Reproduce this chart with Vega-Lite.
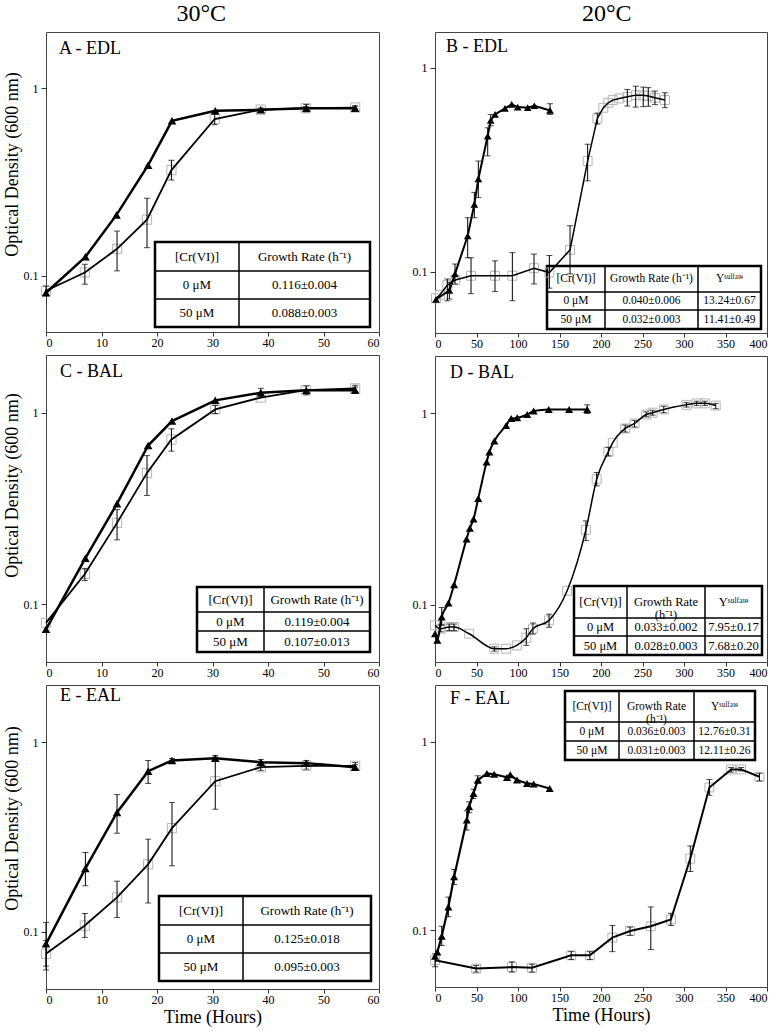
{
"$schema": "https://vega.github.io/schema/vega-lite/v6.json",
"background": "white",
"padding": {"left": 2, "top": 1, "right": 5, "bottom": 1},
"config": {
  "font": "Liberation Serif",
  "view": {"stroke": "#444", "strokeWidth": 1},
  "axis": {"domain": false, "grid": false, "tickColor": "#333", "tickSize": 5, "labelFont": "Liberation Serif", "labelFontSize": 12, "labelColor": "#000", "labelPadding": 3, "titleFont": "Liberation Serif", "titleFontSize": 18, "titleFontWeight": "normal", "titleColor": "#000"},
  "axisX": {"tickSize": 4, "labelPadding": 1, "titlePadding": 3},
  "axisY": {"titlePadding": 2},
  "title": {"font": "Liberation Serif", "fontWeight": "normal", "color": "#000"}
},
"datasets": {
"growth": [
{"p":"A","s":"0","t":0,"od":0.081},
{"p":"A","s":"0","t":7.1,"od":0.126},
{"p":"A","s":"0","t":12.7,"od":0.211},
{"p":"A","s":"0","t":18.4,"od":0.389},
{"p":"A","s":"0","t":22.7,"od":0.671},
{"p":"A","s":"0","t":30.5,"od":0.759},
{"p":"A","s":"0","t":38.7,"od":0.768},
{"p":"A","s":"0","t":46.9,"od":0.784,"lo":0.75,"hi":0.82},
{"p":"A","s":"0","t":55.7,"od":0.784,"lo":0.765,"hi":0.805},
{"p":"A","s":"50","t":0,"od":0.083,"lo":0.078,"hi":0.088},
{"p":"A","s":"50","t":7,"od":0.104,"lo":0.090,"hi":0.115},
{"p":"A","s":"50","t":12.8,"od":0.139,"lo":0.106,"hi":0.173},
{"p":"A","s":"50","t":18.2,"od":0.199,"lo":0.141,"hi":0.259},
{"p":"A","s":"50","t":22.6,"od":0.366,"lo":0.324,"hi":0.413},
{"p":"A","s":"50","t":30.4,"od":0.686,"lo":0.640,"hi":0.729},
{"p":"A","s":"50","t":38.7,"od":0.77,"lo":0.755,"hi":0.785},
{"p":"A","s":"50","t":46.8,"od":0.784,"lo":0.765,"hi":0.80},
{"p":"A","s":"50","t":55.7,"od":0.79,"lo":0.775,"hi":0.805},

{"p":"B","s":"0","t":1.2,"od":0.073},
{"p":"B","s":"0","t":17.3,"od":0.081,"lo":0.0735,"hi":0.0887},
{"p":"B","s":"0","t":24.1,"od":0.0975,"lo":0.087,"hi":0.109},
{"p":"B","s":"0","t":39.4,"od":0.150,"lo":0.117,"hi":0.184},
{"p":"B","s":"0","t":47.4,"od":0.214,"lo":0.184,"hi":0.245},
{"p":"B","s":"0","t":52.2,"od":0.285,"lo":0.231,"hi":0.349},
{"p":"B","s":"0","t":63.5,"od":0.463,"lo":0.370,"hi":0.508},
{"p":"B","s":"0","t":67.1,"od":0.553,"lo":0.52,"hi":0.59},
{"p":"B","s":"0","t":72.3,"od":0.591},
{"p":"B","s":"0","t":84.3,"od":0.633},
{"p":"B","s":"0","t":92.4,"od":0.662},
{"p":"B","s":"0","t":99.6,"od":0.642},
{"p":"B","s":"0","t":111.7,"od":0.638},
{"p":"B","s":"0","t":119.7,"od":0.652},
{"p":"B","s":"0","t":138.6,"od":0.618,"lo":0.591,"hi":0.667},
{"p":"B","s":"50","t":1.2,"od":0.074},
{"p":"B","s":"50","t":6,"od":0.077},
{"p":"B","s":"50","t":14.9,"od":0.086,"lo":0.072,"hi":0.092},
{"p":"B","s":"50","t":24.5,"od":0.091},
{"p":"B","s":"50","t":43.4,"od":0.0955,"lo":0.078,"hi":0.117},
{"p":"B","s":"50","t":72.3,"od":0.0955,"lo":0.080,"hi":0.113},
{"p":"B","s":"50","t":93.2,"od":0.0955,"lo":0.072,"hi":0.124},
{"p":"B","s":"50","t":119.3,"od":0.104,"lo":0.087,"hi":0.122},
{"p":"B","s":"50","t":137.8,"od":0.099,"lo":0.083,"hi":0.120},
{"p":"B","s":"50","t":162.7,"od":0.128,"lo":0.0975,"hi":0.168},
{"p":"B","s":"50","t":183.9,"od":0.349,"lo":0.279,"hi":0.422},
{"p":"B","s":"50","t":195.6,"od":0.565,"lo":0.53,"hi":0.60},
{"p":"B","s":"50","t":202.8,"od":0.637},
{"p":"B","s":"50","t":208.8,"od":0.674},
{"p":"B","s":"50","t":214.1,"od":0.695},
{"p":"B","s":"50","t":222,"od":0.708},
{"p":"B","s":"50","t":231.7,"od":0.721,"lo":0.650,"hi":0.784},
{"p":"B","s":"50","t":241.8,"od":0.735,"lo":0.642,"hi":0.813},
{"p":"B","s":"50","t":250.9,"od":0.733,"lo":0.645,"hi":0.805},
{"p":"B","s":"50","t":257,"od":0.727,"lo":0.648,"hi":0.80},
{"p":"B","s":"50","t":265,"od":0.713,"lo":0.66,"hi":0.77},
{"p":"B","s":"50","t":277,"od":0.695,"lo":0.638,"hi":0.755},

{"p":"C","s":"0","t":0,"od":0.074},
{"p":"C","s":"0","t":7.1,"od":0.174},
{"p":"C","s":"0","t":12.8,"od":0.335},
{"p":"C","s":"0","t":18.4,"od":0.674},
{"p":"C","s":"0","t":22.7,"od":0.904},
{"p":"C","s":"0","t":30.5,"od":1.16},
{"p":"C","s":"0","t":38.7,"od":1.27,"lo":1.21,"hi":1.34},
{"p":"C","s":"0","t":46.9,"od":1.31,"lo":1.24,"hi":1.38},
{"p":"C","s":"0","t":55.7,"od":1.31,"lo":1.26,"hi":1.36},
{"p":"C","s":"50","t":0,"od":0.080},
{"p":"C","s":"50","t":7,"od":0.144,"lo":0.133,"hi":0.154},
{"p":"C","s":"50","t":12.8,"od":0.266,"lo":0.217,"hi":0.312},
{"p":"C","s":"50","t":18.2,"od":0.485,"lo":0.370,"hi":0.597},
{"p":"C","s":"50","t":22.6,"od":0.725,"lo":0.630,"hi":0.824},
{"p":"C","s":"50","t":30.5,"od":1.04,"lo":0.99,"hi":1.09},
{"p":"C","s":"50","t":38.7,"od":1.20},
{"p":"C","s":"50","t":46.8,"od":1.31},
{"p":"C","s":"50","t":55.7,"od":1.34,"lo":1.29,"hi":1.39},

{"p":"D","s":"0","t":0,"od":0.0703},
{"p":"D","s":"0","t":2.8,"od":0.0649},
{"p":"D","s":"0","t":8.1,"od":0.086,"lo":0.078,"hi":0.0965},
{"p":"D","s":"0","t":16.2,"od":0.1017},
{"p":"D","s":"0","t":23,"od":0.127},
{"p":"D","s":"0","t":38,"od":0.220},
{"p":"D","s":"0","t":42,"od":0.251},
{"p":"D","s":"0","t":46.4,"od":0.280},
{"p":"D","s":"0","t":52.1,"od":0.359},
{"p":"D","s":"0","t":62.2,"od":0.557},
{"p":"D","s":"0","t":65.5,"od":0.628},
{"p":"D","s":"0","t":71.5,"od":0.718},
{"p":"D","s":"0","t":85.7,"od":0.866},
{"p":"D","s":"0","t":91.8,"od":0.942},
{"p":"D","s":"0","t":99,"od":0.949},
{"p":"D","s":"0","t":111.1,"od":0.988},
{"p":"D","s":"0","t":118.8,"od":1.03},
{"p":"D","s":"0","t":137,"od":1.05},
{"p":"D","s":"0","t":161.6,"od":1.05},
{"p":"D","s":"0","t":183.4,"od":1.05,"lo":1.0,"hi":1.11},
{"p":"D","s":"50","t":0,"od":0.0778},
{"p":"D","s":"50","t":6.9,"od":0.0747,"lo":0.072,"hi":0.078},
{"p":"D","s":"50","t":17,"od":0.0762,"lo":0.073,"hi":0.079},
{"p":"D","s":"50","t":23,"od":0.0762,"lo":0.073,"hi":0.079},
{"p":"D","s":"50","t":41.2,"od":0.0703},
{"p":"D","s":"50","t":71.5,"od":0.0587,"lo":0.057,"hi":0.060},
{"p":"D","s":"50","t":85.7,"od":0.0587},
{"p":"D","s":"50","t":98.6,"od":0.0611},
{"p":"D","s":"50","t":110,"od":0.0670,"lo":0.0611,"hi":0.0747},
{"p":"D","s":"50","t":118,"od":0.0747,"lo":0.070,"hi":0.080},
{"p":"D","s":"50","t":137.4,"od":0.0826,"lo":0.076,"hi":0.089},
{"p":"D","s":"50","t":159.2,"od":0.118},
{"p":"D","s":"50","t":181.8,"od":0.246,"lo":0.216,"hi":0.274},
{"p":"D","s":"50","t":194.8,"od":0.453,"lo":0.418,"hi":0.491},
{"p":"D","s":"50","t":208.9,"od":0.631,"lo":0.60,"hi":0.665},
{"p":"D","s":"50","t":214.2,"od":0.703},
{"p":"D","s":"50","t":229.1,"od":0.835,"lo":0.80,"hi":0.87},
{"p":"D","s":"50","t":240.4,"od":0.887,"lo":0.85,"hi":0.92},
{"p":"D","s":"50","t":254.5,"od":0.988,"lo":0.96,"hi":1.02},
{"p":"D","s":"50","t":262.2,"od":1.01,"lo":0.98,"hi":1.04},
{"p":"D","s":"50","t":275.6,"od":1.05,"lo":1.01,"hi":1.09},
{"p":"D","s":"50","t":303,"od":1.11,"lo":1.08,"hi":1.14},
{"p":"D","s":"50","t":315.2,"od":1.13,"lo":1.10,"hi":1.16},
{"p":"D","s":"50","t":325.2,"od":1.13,"lo":1.10,"hi":1.16},
{"p":"D","s":"50","t":338.2,"od":1.10,"lo":1.06,"hi":1.13},

{"p":"E","s":"0","t":0,"od":0.0865,"lo":0.066,"hi":0.112},
{"p":"E","s":"0","t":7.1,"od":0.216,"lo":0.175,"hi":0.262},
{"p":"E","s":"0","t":12.8,"od":0.426,"lo":0.331,"hi":0.529},
{"p":"E","s":"0","t":18.4,"od":0.703,"lo":0.606,"hi":0.800},
{"p":"E","s":"0","t":22.7,"od":0.800,"lo":0.78,"hi":0.82},
{"p":"E","s":"0","t":30.5,"od":0.823,"lo":0.80,"hi":0.85},
{"p":"E","s":"0","t":38.7,"od":0.784,"lo":0.75,"hi":0.81},
{"p":"E","s":"0","t":46.9,"od":0.775,"lo":0.75,"hi":0.80},
{"p":"E","s":"0","t":55.7,"od":0.738,"lo":0.72,"hi":0.76},
{"p":"E","s":"50","t":0,"od":0.0766,"lo":0.063,"hi":0.09},
{"p":"E","s":"50","t":7,"od":0.108,"lo":0.0935,"hi":0.125},
{"p":"E","s":"50","t":12.8,"od":0.152,"lo":0.119,"hi":0.185},
{"p":"E","s":"50","t":18.4,"od":0.227,"lo":0.142,"hi":0.308},
{"p":"E","s":"50","t":22.7,"od":0.352,"lo":0.223,"hi":0.481},
{"p":"E","s":"50","t":30.5,"od":0.622,"lo":0.443,"hi":0.833},
{"p":"E","s":"50","t":38.7,"od":0.738,"lo":0.71,"hi":0.76},
{"p":"E","s":"50","t":46.9,"od":0.75,"lo":0.72,"hi":0.78},
{"p":"E","s":"50","t":55.7,"od":0.75,"lo":0.72,"hi":0.78},

{"p":"F","s":"0","t":0,"od":0.0728},
{"p":"F","s":"0","t":2.8,"od":0.0767},
{"p":"F","s":"0","t":8.1,"od":0.0929,"lo":0.083,"hi":0.105},
{"p":"F","s":"0","t":16.1,"od":0.133,"lo":0.118,"hi":0.15},
{"p":"F","s":"0","t":23,"od":0.192,"lo":0.175,"hi":0.21},
{"p":"F","s":"0","t":38.3,"od":0.384,"lo":0.34,"hi":0.43},
{"p":"F","s":"0","t":41.1,"od":0.452,"lo":0.42,"hi":0.48},
{"p":"F","s":"0","t":46.3,"od":0.532,"lo":0.50,"hi":0.56},
{"p":"F","s":"0","t":51.6,"od":0.626,"lo":0.60,"hi":0.66},
{"p":"F","s":"0","t":62.5,"od":0.679},
{"p":"F","s":"0","t":71.3,"od":0.672},
{"p":"F","s":"0","t":86.7,"od":0.647},
{"p":"F","s":"0","t":90.7,"od":0.668},
{"p":"F","s":"0","t":98.8,"od":0.626},
{"p":"F","s":"0","t":110.9,"od":0.601},
{"p":"F","s":"0","t":118.9,"od":0.597},
{"p":"F","s":"0","t":138.2,"od":0.565},
{"p":"F","s":"50","t":0,"od":0.0693,"lo":0.064,"hi":0.075},
{"p":"F","s":"50","t":49.6,"od":0.0626,"lo":0.060,"hi":0.065},
{"p":"F","s":"50","t":92.7,"od":0.0638,"lo":0.060,"hi":0.068},
{"p":"F","s":"50","t":116.9,"od":0.0632,"lo":0.060,"hi":0.066},
{"p":"F","s":"50","t":164.1,"od":0.0736,"lo":0.070,"hi":0.077},
{"p":"F","s":"50","t":186.6,"od":0.0736,"lo":0.070,"hi":0.077},
{"p":"F","s":"50","t":213.7,"od":0.0914,"lo":0.077,"hi":0.106},
{"p":"F","s":"50","t":235,"od":0.099,"lo":0.094,"hi":0.104},
{"p":"F","s":"50","t":260,"od":0.105,"lo":0.079,"hi":0.133},
{"p":"F","s":"50","t":284.2,"od":0.114,"lo":0.106,"hi":0.123},
{"p":"F","s":"50","t":307.6,"od":0.240,"lo":0.205,"hi":0.28},
{"p":"F","s":"50","t":330.6,"od":0.572,"lo":0.52,"hi":0.63},
{"p":"F","s":"50","t":356.8,"od":0.713,"lo":0.69,"hi":0.73},
{"p":"F","s":"50","t":368.8,"od":0.713,"lo":0.70,"hi":0.73},
{"p":"F","s":"50","t":390.9,"od":0.652,"lo":0.62,"hi":0.68}
],
"tables": [
{"p":"A","r":0,"c":0,"txt":"[Cr(VI)]"},
{"p":"A","r":0,"c":1,"txt":"Growth Rate (h⁻¹)"},
{"p":"A","r":1,"c":0,"txt":"0 μM"},
{"p":"A","r":1,"c":1,"txt":"0.116±0.004"},
{"p":"A","r":2,"c":0,"txt":"50 μM"},
{"p":"A","r":2,"c":1,"txt":"0.088±0.003"},
{"p":"B","r":0,"c":0,"txt":"[Cr(VI)]"},
{"p":"B","r":0,"c":1,"txt":"Growth Rate (h⁻¹)"},
{"p":"B","r":0,"c":2,"txt":"Yˢᵘˡᶠᵃᵗᵉ"},
{"p":"B","r":1,"c":0,"txt":"0 μM"},
{"p":"B","r":1,"c":1,"txt":"0.040±0.006"},
{"p":"B","r":1,"c":2,"txt":"13.24±0.67"},
{"p":"B","r":2,"c":0,"txt":"50 μM"},
{"p":"B","r":2,"c":1,"txt":"0.032±0.003"},
{"p":"B","r":2,"c":2,"txt":"11.41±0.49"},
{"p":"C","r":0,"c":0,"txt":"[Cr(VI)]"},
{"p":"C","r":0,"c":1,"txt":"Growth Rate (h⁻¹)"},
{"p":"C","r":1,"c":0,"txt":"0 μM"},
{"p":"C","r":1,"c":1,"txt":"0.119±0.004"},
{"p":"C","r":2,"c":0,"txt":"50 μM"},
{"p":"C","r":2,"c":1,"txt":"0.107±0.013"},
{"p":"D","r":0,"c":0,"txt":"[Cr(VI)]"},
{"p":"D","r":0,"c":1,"txt":"Growth Rate\n(h⁻¹)"},
{"p":"D","r":0,"c":2,"txt":"Yˢᵘˡᶠᵃᵗᵉ"},
{"p":"D","r":1,"c":0,"txt":"0 μM"},
{"p":"D","r":1,"c":1,"txt":"0.033±0.002"},
{"p":"D","r":1,"c":2,"txt":"7.95±0.17"},
{"p":"D","r":2,"c":0,"txt":"50 μM"},
{"p":"D","r":2,"c":1,"txt":"0.028±0.003"},
{"p":"D","r":2,"c":2,"txt":"7.68±0.20"},
{"p":"E","r":0,"c":0,"txt":"[Cr(VI)]"},
{"p":"E","r":0,"c":1,"txt":"Growth Rate (h⁻¹)"},
{"p":"E","r":1,"c":0,"txt":"0 μM"},
{"p":"E","r":1,"c":1,"txt":"0.125±0.018"},
{"p":"E","r":2,"c":0,"txt":"50 μM"},
{"p":"E","r":2,"c":1,"txt":"0.095±0.003"},
{"p":"F","r":0,"c":0,"txt":"[Cr(VI)]"},
{"p":"F","r":0,"c":1,"txt":"Growth Rate\n(h⁻¹)"},
{"p":"F","r":0,"c":2,"txt":"Yˢᵘˡᶠᵃᵗᵉ"},
{"p":"F","r":1,"c":0,"txt":"0 μM"},
{"p":"F","r":1,"c":1,"txt":"0.036±0.003"},
{"p":"F","r":1,"c":2,"txt":"12.76±0.31"},
{"p":"F","r":2,"c":0,"txt":"50 μM"},
{"p":"F","r":2,"c":1,"txt":"0.031±0.003"},
{"p":"F","r":2,"c":2,"txt":"12.11±0.26"}
]
},
"hconcat": [
{
"title": {"text": "30°C", "fontSize": 24, "anchor": "middle", "offset": 6, "dx": 10},
"spacing": 23,
"bounds": "flush",
"vconcat": [
{
"width": 333, "height": 300,
"title": {"text": "A - EDL", "anchor": "start", "frame": "group", "fontSize": 18, "offset": -40, "dx": 13, "baseline": "alphabetic"},
"layer": [
{"data": {"name": "tables"},
 "transform": [{"filter": "datum.p == 'A'"}, {"calculate": "datum.c + 1", "as": "c2"}, {"calculate": "datum.r + 1", "as": "r2"}, {"calculate": "datum.c + 0.5", "as": "cm"}, {"calculate": "datum.r + 0.5", "as": "rm"}],
 "layer": [
  {"mark": {"type": "rect", "filled": false, "color": "#000", "strokeWidth": 1},
   "encoding": {"x": {"field": "c", "type": "quantitative", "scale": {"domain": [0,1,2], "range": [109,193,324], "nice": false, "zero": false}, "axis": null}, "x2": {"field": "c2"},
                "y": {"field": "r", "type": "quantitative", "scale": {"domain": [0,1,2,3], "range": [210,239,267,295], "nice": false, "zero": false}, "axis": null}, "y2": {"field": "r2"}}},
  {"transform": [{"aggregate": [{"op": "min", "field": "c", "as": "c"}, {"op": "max", "field": "c2", "as": "c2"}, {"op": "min", "field": "r", "as": "r"}, {"op": "max", "field": "r2", "as": "r2"}]}],
   "mark": {"type": "rect", "filled": false, "color": "#000", "strokeWidth": 2.5},
   "encoding": {"x": {"field": "c", "type": "quantitative", "axis": null}, "x2": {"field": "c2"}, "y": {"field": "r", "type": "quantitative", "axis": null}, "y2": {"field": "r2"}}},
  {"mark": {"type": "text", "fontSize": 13, "font": "Liberation Serif", "color": "#000", "lineBreak": "\n"},
   "encoding": {"x": {"field": "cm", "type": "quantitative", "axis": null}, "y": {"field": "rm", "type": "quantitative", "axis": null}, "text": {"field": "txt"}}}
 ]},
{"data": {"name": "growth"},
 "transform": [{"filter": "datum.p == 'A'"}],
 "encoding": {
   "x": {"field": "t", "type": "quantitative", "scale": {"domain": [0,60], "nice": false, "zero": false}, "axis": {"orient": "bottom", "values": [0,10,20,30,40,50,60], "title": null}},
   "y": {"field": "od", "type": "quantitative", "scale": {"type": "log", "domain": [0.05,2], "nice": false}, "axis": {"orient": "left", "values": [0.1,1], "format": "~g", "title": "Optical Density (600 nm)", "titleY": 132}}
 },
 "layer": [
  {"transform": [{"filter": "datum.s == '50'"}], "mark": {"type": "point", "shape": "square", "size": 85, "filled": false, "color": "#b5b5b5", "strokeWidth": 1, "opacity": 1}},
  {"transform": [{"filter": "datum.s == '50'"}], "mark": {"type": "line", "color": "#000", "strokeWidth": 1.8}},
  {"transform": [{"filter": "datum.s == '0'"}], "mark": {"type": "line", "color": "#000", "strokeWidth": 2.5}},
  {"transform": [{"filter": "isValid(datum.lo)"}], "mark": {"type": "errorbar", "ticks": {"size": 6}, "color": "#000", "thickness": 1},
   "encoding": {"y": {"field": "lo", "type": "quantitative", "scale": {"type": "log", "domain": [0.05,2], "nice": false}, "axis": {"orient": "left", "values": [0.1,1], "format": "~g", "title": "Optical Density (600 nm)", "titleY": 132}}, "y2": {"field": "hi"}}},
  {"transform": [{"filter": "datum.s == '0'"}], "mark": {"type": "point", "shape": "triangle-up", "size": 75, "filled": true, "color": "#000", "opacity": 1}}
 ]}
],
"resolve": {"scale": {"x": "independent", "y": "independent"}}
},
{
"width": 333, "height": 307,
"title": {"text": "C - BAL", "anchor": "start", "frame": "group", "fontSize": 18, "offset": -40, "dx": 14, "baseline": "alphabetic"},
"layer": [
{"data": {"name": "tables"},
 "transform": [{"filter": "datum.p == 'C'"}, {"calculate": "datum.c + 1", "as": "c2"}, {"calculate": "datum.r + 1", "as": "r2"}, {"calculate": "datum.c + 0.5", "as": "cm"}, {"calculate": "datum.r + 0.5", "as": "rm"}],
 "layer": [
  {"mark": {"type": "rect", "filled": false, "color": "#000", "strokeWidth": 1},
   "encoding": {"x": {"field": "c", "type": "quantitative", "scale": {"domain": [0,1,2], "range": [151,218,324], "nice": false, "zero": false}, "axis": null}, "x2": {"field": "c2"},
                "y": {"field": "r", "type": "quantitative", "scale": {"domain": [0,1,2,3], "range": [232,257,276,297], "nice": false, "zero": false}, "axis": null}, "y2": {"field": "r2"}}},
  {"transform": [{"aggregate": [{"op": "min", "field": "c", "as": "c"}, {"op": "max", "field": "c2", "as": "c2"}, {"op": "min", "field": "r", "as": "r"}, {"op": "max", "field": "r2", "as": "r2"}]}],
   "mark": {"type": "rect", "filled": false, "color": "#000", "strokeWidth": 2.5},
   "encoding": {"x": {"field": "c", "type": "quantitative", "axis": null}, "x2": {"field": "c2"}, "y": {"field": "r", "type": "quantitative", "axis": null}, "y2": {"field": "r2"}}},
  {"mark": {"type": "text", "fontSize": 13, "font": "Liberation Serif", "color": "#000", "lineBreak": "\n"},
   "encoding": {"x": {"field": "cm", "type": "quantitative", "axis": null}, "y": {"field": "rm", "type": "quantitative", "axis": null}, "text": {"field": "txt"}}}
 ]},
{"data": {"name": "growth"},
 "transform": [{"filter": "datum.p == 'C'"}],
 "encoding": {
   "x": {"field": "t", "type": "quantitative", "scale": {"domain": [0,60], "nice": false, "zero": false}, "axis": {"orient": "bottom", "values": [0,10,20,30,40,50,60], "title": null}},
   "y": {"field": "od", "type": "quantitative", "scale": {"type": "log", "domain": [0.05,2], "nice": false}, "axis": {"orient": "left", "values": [0.1,1], "format": "~g", "title": "Optical Density (600 nm)", "titleY": 130}}
 },
 "layer": [
  {"transform": [{"filter": "datum.s == '50'"}], "mark": {"type": "point", "shape": "square", "size": 85, "filled": false, "color": "#b5b5b5", "strokeWidth": 1, "opacity": 1}},
  {"transform": [{"filter": "datum.s == '50'"}], "mark": {"type": "line", "color": "#000", "strokeWidth": 1.8}},
  {"transform": [{"filter": "datum.s == '0'"}], "mark": {"type": "line", "color": "#000", "strokeWidth": 2.5}},
  {"transform": [{"filter": "isValid(datum.lo)"}], "mark": {"type": "errorbar", "ticks": {"size": 6}, "color": "#000", "thickness": 1},
   "encoding": {"y": {"field": "lo", "type": "quantitative", "scale": {"type": "log", "domain": [0.05,2], "nice": false}, "axis": {"orient": "left", "values": [0.1,1], "format": "~g", "title": "Optical Density (600 nm)", "titleY": 130}}, "y2": {"field": "hi"}}},
  {"transform": [{"filter": "datum.s == '0'"}], "mark": {"type": "point", "shape": "triangle-up", "size": 75, "filled": true, "color": "#000", "opacity": 1}}
 ]}
],
"resolve": {"scale": {"x": "independent", "y": "independent"}}
},
{
"width": 333, "height": 304,
"title": {"text": "E - EAL", "anchor": "start", "frame": "group", "fontSize": 18, "offset": -34, "dx": 14, "baseline": "alphabetic"},
"layer": [
{"data": {"name": "tables"},
 "transform": [{"filter": "datum.p == 'E'"}, {"calculate": "datum.c + 1", "as": "c2"}, {"calculate": "datum.r + 1", "as": "r2"}, {"calculate": "datum.c + 0.5", "as": "cm"}, {"calculate": "datum.r + 0.5", "as": "rm"}],
 "layer": [
  {"mark": {"type": "rect", "filled": false, "color": "#000", "strokeWidth": 1},
   "encoding": {"x": {"field": "c", "type": "quantitative", "scale": {"domain": [0,1,2], "range": [113,197,325], "nice": false, "zero": false}, "axis": null}, "x2": {"field": "c2"},
                "y": {"field": "r", "type": "quantitative", "scale": {"domain": [0,1,2,3], "range": [211,240,268,296], "nice": false, "zero": false}, "axis": null}, "y2": {"field": "r2"}}},
  {"transform": [{"aggregate": [{"op": "min", "field": "c", "as": "c"}, {"op": "max", "field": "c2", "as": "c2"}, {"op": "min", "field": "r", "as": "r"}, {"op": "max", "field": "r2", "as": "r2"}]}],
   "mark": {"type": "rect", "filled": false, "color": "#000", "strokeWidth": 2.5},
   "encoding": {"x": {"field": "c", "type": "quantitative", "axis": null}, "x2": {"field": "c2"}, "y": {"field": "r", "type": "quantitative", "axis": null}, "y2": {"field": "r2"}}},
  {"mark": {"type": "text", "fontSize": 13, "font": "Liberation Serif", "color": "#000", "lineBreak": "\n"},
   "encoding": {"x": {"field": "cm", "type": "quantitative", "axis": null}, "y": {"field": "rm", "type": "quantitative", "axis": null}, "text": {"field": "txt"}}}
 ]},
{"data": {"name": "growth"},
 "transform": [{"filter": "datum.p == 'E'"}],
 "encoding": {
   "x": {"field": "t", "type": "quantitative", "scale": {"domain": [0,60], "nice": false, "zero": false}, "axis": {"orient": "bottom", "values": [0,10,20,30,40,50,60], "title": "Time (Hours)"}},
   "y": {"field": "od", "type": "quantitative", "scale": {"type": "log", "domain": [0.05,2], "nice": false}, "axis": {"orient": "left", "values": [0.1,1], "format": "~g", "title": "Optical Density (600 nm)", "titleY": 133}}
 },
 "layer": [
  {"transform": [{"filter": "datum.s == '50'"}], "mark": {"type": "point", "shape": "square", "size": 85, "filled": false, "color": "#b5b5b5", "strokeWidth": 1, "opacity": 1}},
  {"transform": [{"filter": "datum.s == '50'"}], "mark": {"type": "line", "color": "#000", "strokeWidth": 1.8}},
  {"transform": [{"filter": "datum.s == '0'"}], "mark": {"type": "line", "color": "#000", "strokeWidth": 2.5}},
  {"transform": [{"filter": "isValid(datum.lo)"}], "mark": {"type": "errorbar", "ticks": {"size": 6}, "color": "#000", "thickness": 1},
   "encoding": {"y": {"field": "lo", "type": "quantitative", "scale": {"type": "log", "domain": [0.05,2], "nice": false}, "axis": {"orient": "left", "values": [0.1,1], "format": "~g", "title": "Optical Density (600 nm)", "titleY": 133}}, "y2": {"field": "hi"}}},
  {"transform": [{"filter": "datum.s == '0'"}], "mark": {"type": "point", "shape": "triangle-up", "size": 75, "filled": true, "color": "#000", "opacity": 1}}
 ]}
],
"resolve": {"scale": {"x": "independent", "y": "independent"}}
}
]
},
{
"title": {"text": "20°C", "fontSize": 24, "anchor": "middle", "offset": 6, "dx": 17},
"spacing": 23,
"bounds": "flush",
"vconcat": [
{
"width": 332, "height": 301,
"title": {"text": "B - EDL", "anchor": "start", "frame": "group", "fontSize": 18, "offset": -38, "dx": 11, "baseline": "alphabetic"},
"layer": [
{"data": {"name": "tables"},
 "transform": [{"filter": "datum.p == 'B'"}, {"calculate": "datum.c + 1", "as": "c2"}, {"calculate": "datum.r + 1", "as": "r2"}, {"calculate": "datum.c + 0.5", "as": "cm"}, {"calculate": "datum.r + 0.5", "as": "rm"}],
 "layer": [
  {"mark": {"type": "rect", "filled": false, "color": "#000", "strokeWidth": 1},
   "encoding": {"x": {"field": "c", "type": "quantitative", "scale": {"domain": [0,1,2,3], "range": [112,170,263,326], "nice": false, "zero": false}, "axis": null}, "x2": {"field": "c2"},
                "y": {"field": "r", "type": "quantitative", "scale": {"domain": [0,1,2,3], "range": [234,260,278,297], "nice": false, "zero": false}, "axis": null}, "y2": {"field": "r2"}}},
  {"transform": [{"aggregate": [{"op": "min", "field": "c", "as": "c"}, {"op": "max", "field": "c2", "as": "c2"}, {"op": "min", "field": "r", "as": "r"}, {"op": "max", "field": "r2", "as": "r2"}]}],
   "mark": {"type": "rect", "filled": false, "color": "#000", "strokeWidth": 2.5},
   "encoding": {"x": {"field": "c", "type": "quantitative", "axis": null}, "x2": {"field": "c2"}, "y": {"field": "r", "type": "quantitative", "axis": null}, "y2": {"field": "r2"}}},
  {"mark": {"type": "text", "fontSize": 11.5, "font": "Liberation Serif", "color": "#000", "lineBreak": "\n"},
   "encoding": {"x": {"field": "cm", "type": "quantitative", "axis": null}, "y": {"field": "rm", "type": "quantitative", "axis": null}, "text": {"field": "txt"}}}
 ]},
{"data": {"name": "growth"},
 "transform": [{"filter": "datum.p == 'B'"}],
 "encoding": {
   "x": {"field": "t", "type": "quantitative", "scale": {"domain": [0,400], "nice": false, "zero": false}, "axis": {"orient": "bottom", "values": [0,50,100,150,200,250,300,350,400], "title": null}},
   "y": {"field": "od", "type": "quantitative", "scale": {"type": "log", "domain": [0.05,1.5], "nice": false}, "axis": {"orient": "left", "values": [0.1,1], "format": "~g", "title": null}}
 },
 "layer": [
  {"transform": [{"filter": "datum.s == '50'"}], "mark": {"type": "point", "shape": "square", "size": 80, "filled": false, "color": "#b5b5b5", "strokeWidth": 1, "opacity": 1}},
  {"transform": [{"filter": "datum.s == '50'"}], "mark": {"type": "line", "color": "#000", "strokeWidth": 1.5}},
  {"transform": [{"filter": "datum.s == '0'"}], "mark": {"type": "line", "color": "#000", "strokeWidth": 2}},
  {"transform": [{"filter": "isValid(datum.lo)"}], "mark": {"type": "errorbar", "ticks": {"size": 6}, "color": "#000", "thickness": 1},
   "encoding": {"y": {"field": "lo", "type": "quantitative", "scale": {"type": "log", "domain": [0.05,1.5], "nice": false}, "axis": {"orient": "left", "values": [0.1,1], "format": "~g", "title": null}}, "y2": {"field": "hi"}}},
  {"transform": [{"filter": "datum.s == '0'"}], "mark": {"type": "point", "shape": "triangle-up", "size": 60, "filled": true, "color": "#000", "opacity": 1}}
 ]}
],
"resolve": {"scale": {"x": "independent", "y": "independent"}}
},
{
"width": 332, "height": 306,
"title": {"text": "D - BAL", "anchor": "start", "frame": "group", "fontSize": 18, "offset": -40, "dx": 15, "baseline": "alphabetic"},
"layer": [
{"data": {"name": "tables"},
 "transform": [{"filter": "datum.p == 'D'"}, {"calculate": "datum.c + 1", "as": "c2"}, {"calculate": "datum.r + 1", "as": "r2"}, {"calculate": "datum.c + 0.5", "as": "cm"}, {"calculate": "datum.r + 0.5", "as": "rm"}],
 "layer": [
  {"mark": {"type": "rect", "filled": false, "color": "#000", "strokeWidth": 1},
   "encoding": {"x": {"field": "c", "type": "quantitative", "scale": {"domain": [0,1,2,3], "range": [139,192,270,327], "nice": false, "zero": false}, "axis": null}, "x2": {"field": "c2"},
                "y": {"field": "r", "type": "quantitative", "scale": {"domain": [0,1,2,3], "range": [230,262,280,299], "nice": false, "zero": false}, "axis": null}, "y2": {"field": "r2"}}},
  {"transform": [{"aggregate": [{"op": "min", "field": "c", "as": "c"}, {"op": "max", "field": "c2", "as": "c2"}, {"op": "min", "field": "r", "as": "r"}, {"op": "max", "field": "r2", "as": "r2"}]}],
   "mark": {"type": "rect", "filled": false, "color": "#000", "strokeWidth": 2.5},
   "encoding": {"x": {"field": "c", "type": "quantitative", "axis": null}, "x2": {"field": "c2"}, "y": {"field": "r", "type": "quantitative", "axis": null}, "y2": {"field": "r2"}}},
  {"mark": {"type": "text", "fontSize": 12.5, "font": "Liberation Serif", "color": "#000", "lineBreak": "\n", "lineHeight": 13},
   "encoding": {"x": {"field": "cm", "type": "quantitative", "axis": null}, "y": {"field": "rm", "type": "quantitative", "axis": null}, "text": {"field": "txt"}}}
 ]},
{"data": {"name": "growth"},
 "transform": [{"filter": "datum.p == 'D'"}],
 "encoding": {
   "x": {"field": "t", "type": "quantitative", "scale": {"domain": [0,400], "nice": false, "zero": false}, "axis": {"orient": "bottom", "values": [0,50,100,150,200,250,300,350,400], "title": null}},
   "y": {"field": "od", "type": "quantitative", "scale": {"type": "log", "domain": [0.05,2], "nice": false}, "axis": {"orient": "left", "values": [0.1,1], "format": "~g", "title": null}}
 },
 "layer": [
  {"transform": [{"filter": "datum.s == '50'"}], "mark": {"type": "point", "shape": "square", "size": 80, "filled": false, "color": "#b5b5b5", "strokeWidth": 1, "opacity": 1}},
  {"transform": [{"filter": "datum.s == '50'"}], "mark": {"type": "line", "color": "#000", "strokeWidth": 1.5, "interpolate": "monotone"}},
  {"transform": [{"filter": "datum.s == '0'"}], "mark": {"type": "line", "color": "#000", "strokeWidth": 2, "interpolate": "monotone"}},
  {"transform": [{"filter": "isValid(datum.lo)"}], "mark": {"type": "errorbar", "ticks": {"size": 6}, "color": "#000", "thickness": 1},
   "encoding": {"y": {"field": "lo", "type": "quantitative", "scale": {"type": "log", "domain": [0.05,2], "nice": false}, "axis": {"orient": "left", "values": [0.1,1], "format": "~g", "title": null}}, "y2": {"field": "hi"}}},
  {"transform": [{"filter": "datum.s == '0'"}], "mark": {"type": "point", "shape": "triangle-up", "size": 65, "filled": true, "color": "#000", "opacity": 1}}
 ]}
],
"resolve": {"scale": {"x": "independent", "y": "independent"}}
},
{
"width": 332, "height": 302,
"title": {"text": "F - EAL", "anchor": "start", "frame": "group", "fontSize": 18, "offset": -37, "dx": 15, "baseline": "alphabetic"},
"layer": [
{"data": {"name": "tables"},
 "transform": [{"filter": "datum.p == 'F'"}, {"calculate": "datum.c + 1", "as": "c2"}, {"calculate": "datum.r + 1", "as": "r2"}, {"calculate": "datum.c + 0.5", "as": "cm"}, {"calculate": "datum.r + 0.5", "as": "rm"}],
 "layer": [
  {"mark": {"type": "rect", "filled": false, "color": "#000", "strokeWidth": 1},
   "encoding": {"x": {"field": "c", "type": "quantitative", "scale": {"domain": [0,1,2,3], "range": [130,184,259,320], "nice": false, "zero": false}, "axis": null}, "x2": {"field": "c2"},
                "y": {"field": "r", "type": "quantitative", "scale": {"domain": [0,1,2,3], "range": [6,37,56,75], "nice": false, "zero": false}, "axis": null}, "y2": {"field": "r2"}}},
  {"transform": [{"aggregate": [{"op": "min", "field": "c", "as": "c"}, {"op": "max", "field": "c2", "as": "c2"}, {"op": "min", "field": "r", "as": "r"}, {"op": "max", "field": "r2", "as": "r2"}]}],
   "mark": {"type": "rect", "filled": false, "color": "#000", "strokeWidth": 2.5},
   "encoding": {"x": {"field": "c", "type": "quantitative", "axis": null}, "x2": {"field": "c2"}, "y": {"field": "r", "type": "quantitative", "axis": null}, "y2": {"field": "r2"}}},
  {"mark": {"type": "text", "fontSize": 11.5, "font": "Liberation Serif", "color": "#000", "lineBreak": "\n", "lineHeight": 13},
   "encoding": {"x": {"field": "cm", "type": "quantitative", "axis": null}, "y": {"field": "rm", "type": "quantitative", "axis": null}, "text": {"field": "txt"}}}
 ]},
{"data": {"name": "growth"},
 "transform": [{"filter": "datum.p == 'F'"}],
 "encoding": {
   "x": {"field": "t", "type": "quantitative", "scale": {"domain": [0,400], "nice": false, "zero": false}, "axis": {"orient": "bottom", "values": [0,50,100,150,200,250,300,350,400], "title": "Time (Hours)"}},
   "y": {"field": "od", "type": "quantitative", "scale": {"type": "log", "domain": [0.05,2], "nice": false}, "axis": {"orient": "left", "values": [0.1,1], "format": "~g", "title": null}}
 },
 "layer": [
  {"transform": [{"filter": "datum.s == '50'"}], "mark": {"type": "point", "shape": "square", "size": 80, "filled": false, "color": "#b5b5b5", "strokeWidth": 1, "opacity": 1}},
  {"transform": [{"filter": "datum.s == '50'"}], "mark": {"type": "line", "color": "#000", "strokeWidth": 2}},
  {"transform": [{"filter": "datum.s == '0'"}], "mark": {"type": "line", "color": "#000", "strokeWidth": 2.2}},
  {"transform": [{"filter": "isValid(datum.lo)"}], "mark": {"type": "errorbar", "ticks": {"size": 6}, "color": "#000", "thickness": 1},
   "encoding": {"y": {"field": "lo", "type": "quantitative", "scale": {"type": "log", "domain": [0.05,2], "nice": false}, "axis": {"orient": "left", "values": [0.1,1], "format": "~g", "title": null}}, "y2": {"field": "hi"}}},
  {"transform": [{"filter": "datum.s == '0'"}], "mark": {"type": "point", "shape": "triangle-up", "size": 65, "filled": true, "color": "#000", "opacity": 1}}
 ]}
],
"resolve": {"scale": {"x": "independent", "y": "independent"}}
}
]
}
],
"spacing": 31
}
